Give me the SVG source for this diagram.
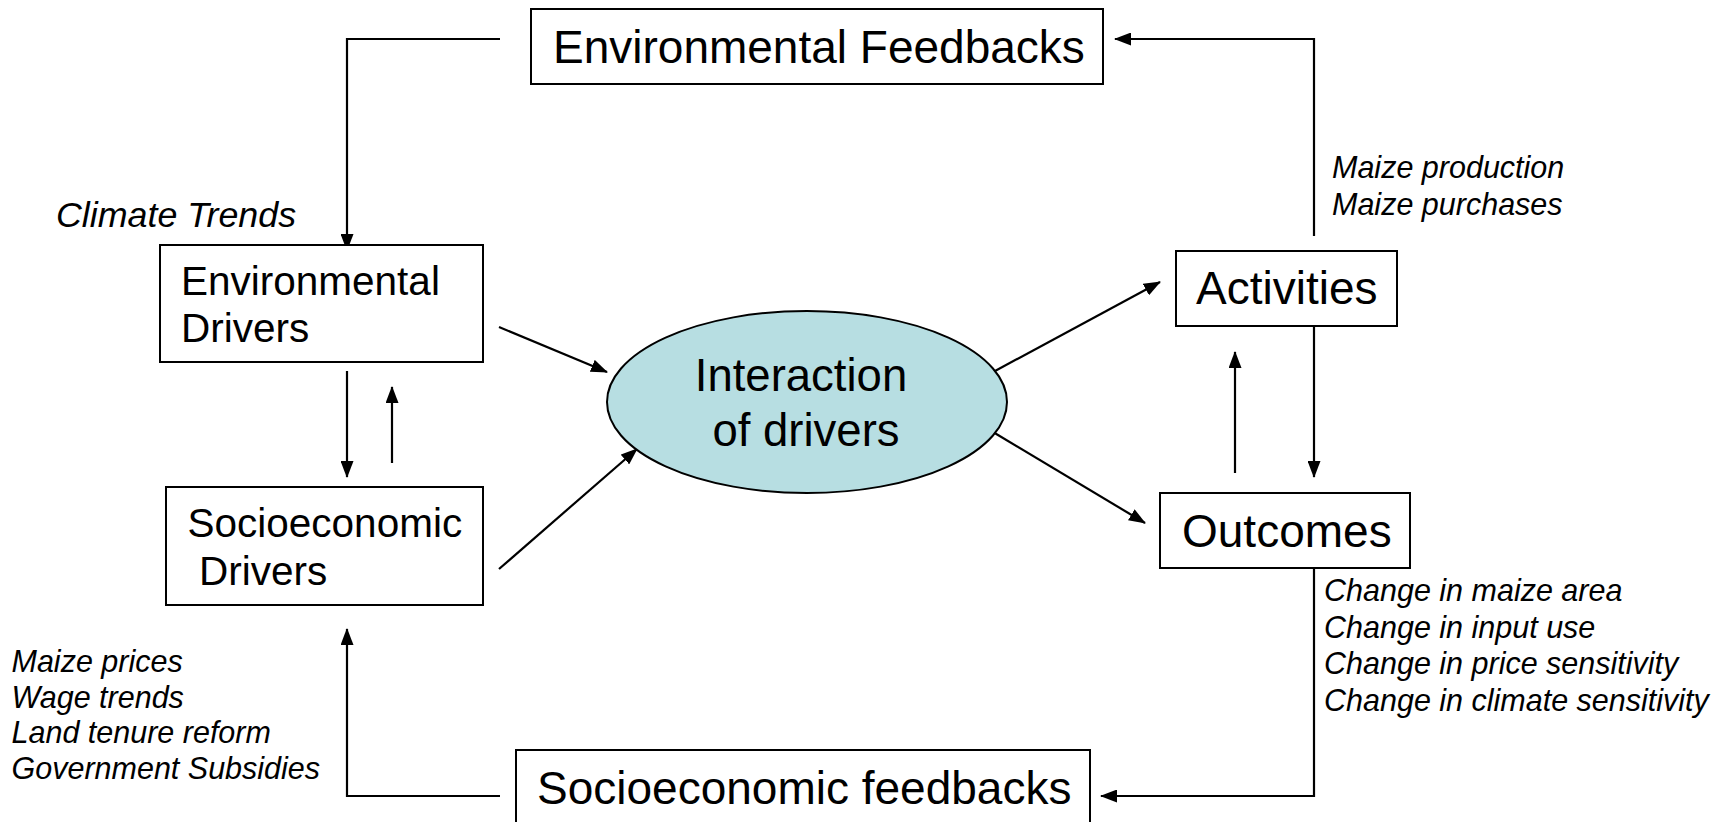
<svg xmlns="http://www.w3.org/2000/svg" width="1730" height="822" viewBox="0 0 1730 822">
<style>
.box{fill:#fff;stroke:#000;stroke-width:2}
.t{font-family:"Liberation Sans",Arial,sans-serif;fill:#000}
.big{font-size:46px}
.mid{font-size:40.5px}
.lab{font-size:30.5px;font-style:italic}
.conn{fill:none;stroke:#000;stroke-width:2.2}
</style>
<defs>
<marker id="ah" markerUnits="userSpaceOnUse" markerWidth="17" markerHeight="13" refX="16" refY="6.5" orient="auto">
<path d="M0,0 L17,6.5 L0,13 z" fill="#000"/>
</marker>
</defs>
<rect width="1730" height="822" fill="#fff"/>
<g id="connectors">
<polyline class="conn" points="500,39 347,39 347,250" marker-end="url(#ah)"/>
<polyline class="conn" points="1314,236 1314,39 1115,39" marker-end="url(#ah)"/>
<polyline class="conn" points="1314,568 1314,796 1101,796" marker-end="url(#ah)"/>
<polyline class="conn" points="500,796 347,796 347,629" marker-end="url(#ah)"/>
<line class="conn" x1="347" y1="371" x2="347" y2="477" marker-end="url(#ah)"/>
<line class="conn" x1="392" y1="463" x2="392" y2="387" marker-end="url(#ah)"/>
<line class="conn" x1="499" y1="327" x2="607" y2="372" marker-end="url(#ah)"/>
<line class="conn" x1="499" y1="569" x2="637" y2="449" marker-end="url(#ah)"/>
<line class="conn" x1="995" y1="371" x2="1160" y2="282" marker-end="url(#ah)"/>
<line class="conn" x1="993" y1="432" x2="1145" y2="523" marker-end="url(#ah)"/>
<line class="conn" x1="1235" y1="473" x2="1235" y2="352" marker-end="url(#ah)"/>
<line class="conn" x1="1314" y1="326" x2="1314" y2="477" marker-end="url(#ah)"/>
</g>
<g id="env-feedbacks">
<rect class="box" x="531" y="9" width="572" height="75"/>
<text class="t big" x="553" y="63">Environmental Feedbacks</text>
</g>
<g id="env-drivers">
<rect class="box" x="160" y="245" width="323" height="117"/>
<text class="t mid" x="181" y="295">Environmental</text>
<text class="t mid" x="181" y="342">Drivers</text>
</g>
<g id="socio-drivers">
<rect class="box" x="166" y="487" width="317" height="118"/>
<text class="t mid" x="187.5" y="537">Socioeconomic</text>
<text class="t mid" x="199" y="585">Drivers</text>
</g>
<g id="interaction">
<ellipse cx="807" cy="402" rx="200" ry="91" fill="#b7dee2" stroke="#000" stroke-width="2"/>
<text class="t big" x="801" y="391" text-anchor="middle" style="font-size:45.5px">Interaction</text>
<text class="t big" x="806" y="446" text-anchor="middle" style="font-size:45.5px">of drivers</text>
</g>
<g id="activities">
<rect class="box" x="1176" y="251" width="221" height="75"/>
<text class="t big" x="1196" y="304">Activities</text>
</g>
<g id="outcomes">
<rect class="box" x="1160" y="493" width="250" height="75"/>
<text class="t big" x="1182" y="547">Outcomes</text>
</g>
<g id="socio-feedbacks">
<rect class="box" x="516" y="750" width="574" height="80"/>
<text class="t big" x="537" y="804">Socioeconomic feedbacks</text>
</g>
<g id="labels">
<text class="t lab" x="56" y="227" style="font-size:35.8px">Climate Trends</text>
<text class="t lab" x="1332" y="178">Maize production</text>
<text class="t lab" x="1332" y="214.5">Maize purchases</text>
<text class="t lab" x="1324" y="601">Change in maize area</text>
<text class="t lab" x="1324" y="637.5">Change in input use</text>
<text class="t lab" x="1324" y="674">Change in price sensitivity</text>
<text class="t lab" x="1324" y="710.5">Change in climate sensitivity</text>
<text class="t lab" x="11.5" y="672">Maize prices</text>
<text class="t lab" x="11.5" y="707.5">Wage trends</text>
<text class="t lab" x="11.5" y="743">Land tenure reform</text>
<text class="t lab" x="11.5" y="779">Government Subsidies</text>
</g>
</svg>
